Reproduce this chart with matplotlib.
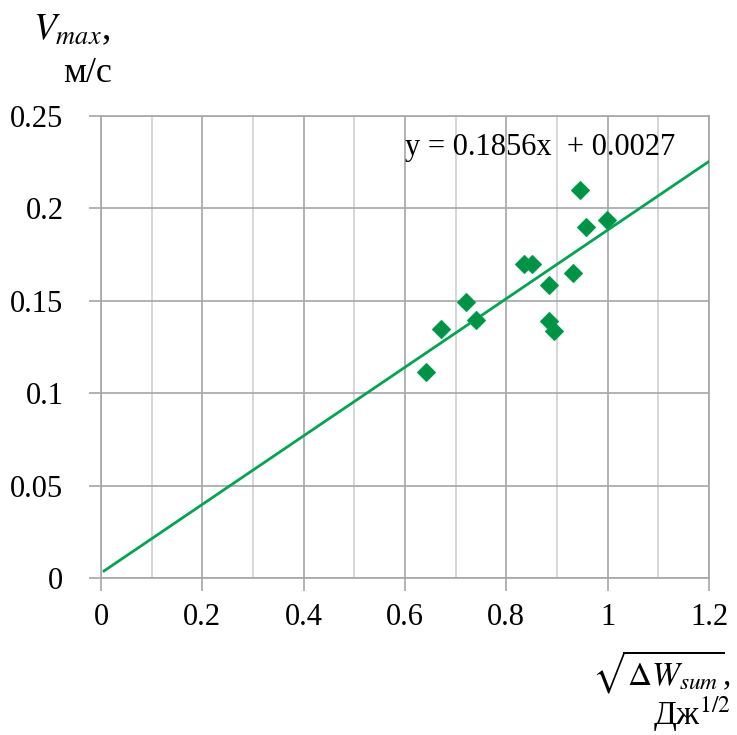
import matplotlib
matplotlib.use("Agg")
import matplotlib.pyplot as plt
import numpy as np
from matplotlib.ticker import MultipleLocator

plt.rcParams['font.family'] = ['Liberation Serif', 'DejaVu Serif']
plt.rcParams['mathtext.fontset'] = 'stix'

# data
x_vals = [0.641, 0.671, 0.721, 0.741, 0.835, 0.850, 0.884, 0.884, 0.894, 0.931, 0.946, 0.957, 0.999]
y_vals = [0.1116, 0.1347, 0.1495, 0.1396, 0.1697, 0.1697, 0.1585, 0.1392, 0.1337, 0.1649, 0.2100, 0.1898, 0.1937]
slope = 0.1856
intercept = 0.0027
trend_x = [0.006, 1.2]
equation = "y = 0.1856x  + 0.0027"
x_ticks = [0, 0.2, 0.4, 0.6, 0.8, 1.0, 1.2]
x_tick_labels = ["0", "0.2", "0.4", "0.6", "0.8", "1", "1.2"]
y_ticks = [0, 0.05, 0.1, 0.15, 0.2, 0.25]
y_tick_labels = ["0", "0.05", "0.1", "0.15", "0.2", "0.25"]

fig = plt.figure(figsize=(7.37, 7.35), dpi=100)
ax = fig.add_axes([101/737, 1-578/735, (709-101)/737, (578-116)/735])

major_gray = '#a6a6a6'
minor_gray = '#d0d0d0'

ax.set_xlim(0, 1.2)
ax.set_ylim(0, 0.25)
ax.set_xticks(x_ticks)
ax.set_xticklabels(x_tick_labels)
ax.set_yticks(y_ticks)
ax.set_yticklabels(y_tick_labels)
ax.xaxis.set_minor_locator(MultipleLocator(0.1))
ax.grid(True, which='major', color=major_gray, linewidth=1.2)
ax.grid(True, which='minor', axis='x', color=minor_gray, linewidth=1.2)
ax.tick_params(which='major', direction='out', length=9, width=1.2, color=major_gray,
               labelsize=22, labelcolor='black')
ax.tick_params(axis='x', pad=9)
ax.tick_params(axis='y', pad=18)
ax.tick_params(which='minor', length=0)
for s in ax.spines.values():
    s.set_color(major_gray)
    s.set_linewidth(1.2)
ax.set_axisbelow(True)

tx = np.array(trend_x)
ax.plot(tx, slope*tx + intercept, color='#00A651', linewidth=2.0, zorder=3)
ax.plot(x_vals, y_vals, linestyle='none', marker='D', markersize=9.5,
        color='#009245', markeredgecolor='#00a04c', markeredgewidth=0.8, zorder=4)

ax.text(0.6, 0.2327, equation, fontsize=22, va='center', ha='left')

fig.text(110/737, 1-30/735, r'$V_{max}$,', fontsize=27, ha='right', va='center')
fig.text(112/737, 1-74/735, 'м/с', fontsize=26, ha='right', va='center')
fig.text(731/737, 1-672/735, r'$\sqrt{\Delta W_{sum}}$,', fontsize=24, ha='right', va='center')
fig.text(731/737, 1-714/735, r'Дж$^{1/2}$', fontsize=24, ha='right', va='center')

fig.savefig('out.png', dpi=100)
